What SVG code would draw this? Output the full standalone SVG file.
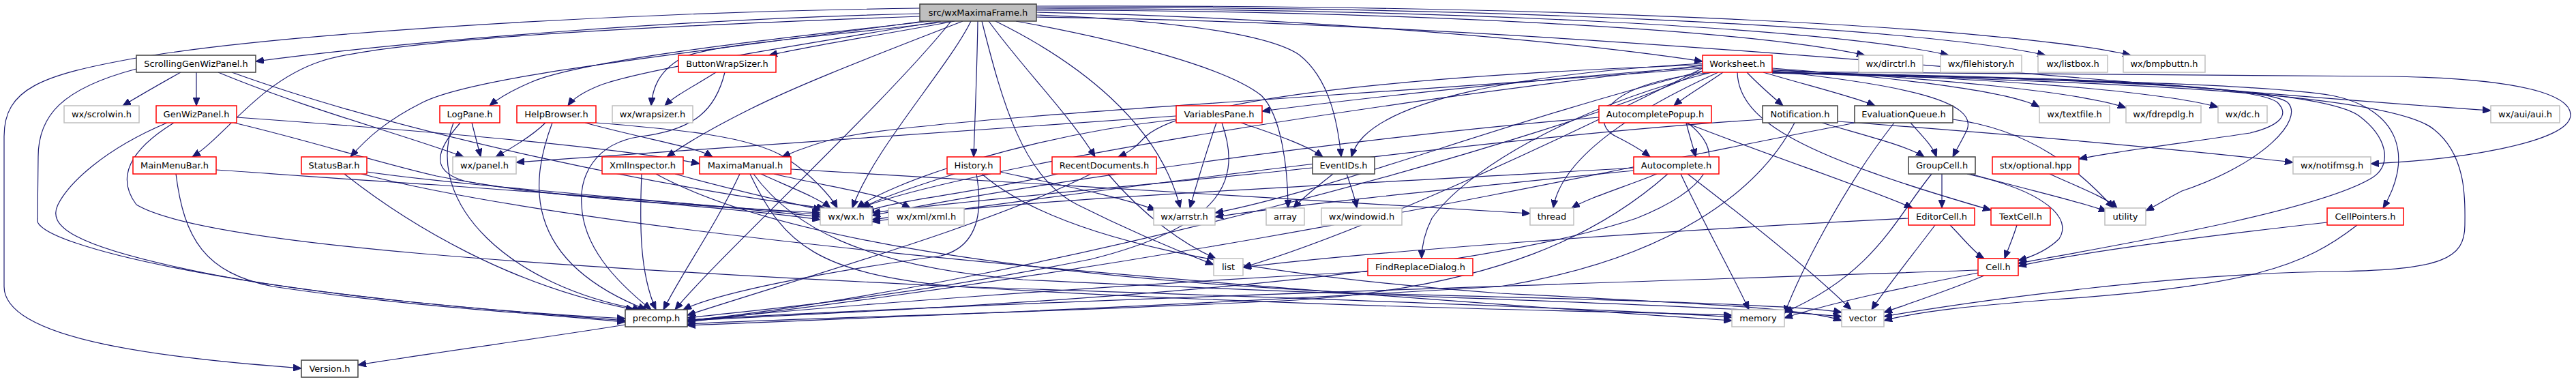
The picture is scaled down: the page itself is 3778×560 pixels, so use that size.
<svg xmlns="http://www.w3.org/2000/svg" width="3778" height="560" viewBox="0 0 3778 560">
<style>
.e path{fill:none;stroke:#191970;stroke-width:1.2;marker-end:url(#a)}
.n rect{fill:#fff;stroke-width:1.5}
.red rect{stroke:#ff0000}
.gray rect{stroke:#bfbfbf}
.blk rect{stroke:#404040}
.root rect{fill:#bfbfbf;stroke:#404040}
text{font-family:"DejaVu Sans","Liberation Sans",sans-serif;font-size:13px;text-anchor:middle;fill:#000}
</style>
<defs>
<marker id="a" markerUnits="userSpaceOnUse" markerWidth="13" markerHeight="10" refX="12" refY="5" orient="auto">
<path d="M0,0 L12,5 L0,10 z" fill="#191970" stroke="#191970" stroke-width="1"/>
</marker>
</defs>
<rect width="3778" height="560" fill="#fff"/>
<g id="edges" class="e">
<path d="M1349,20 C1000,28 600,60 375,90"/>
<path d="M1349,12 C900,18 400,50 200,85 C60,110 6,130 6,200 L6,420 C6,500 250,525 442,540"/>
<path d="M1349,24 C900,40 560,60 470,90 C380,120 330,200 282,230"/>
<path d="M1355,31 C1000,80 700,110 620,150 C570,175 540,200 514,230"/>
<path d="M1365,31 C1100,60 850,90 780,120 C745,135 730,145 718,155"/>
<path d="M1380,31 C1150,70 950,100 880,125 C855,135 840,145 833,155"/>
<path d="M1395,31 C1200,55 1040,65 1000,85 C965,105 957,130 955,155"/>
<path d="M1400,31 C1300,50 1200,65 1128,81"/>
<path d="M1412,31 C1300,75 1180,120 1100,160 C1030,195 1000,215 978,230"/>
<path d="M1424,31 C1390,100 1280,220 1250,305"/>
<path d="M1434,31 C1433,100 1430,170 1428,230"/>
<path d="M1440,31 C1470,150 1500,260 1580,300 C1660,340 1720,365 1780,388"/>
<path d="M1450,31 C1500,100 1570,170 1606,230"/>
<path d="M1460,31 C1580,90 1700,180 1731,305"/>
<path d="M1520,22 C1720,30 1860,50 1905,80 C1950,115 1962,180 1967,230"/>
<path d="M1490,31 C1650,60 1800,100 1850,140 C1880,170 1889,250 1889,305"/>
<path d="M1520,18 C1900,25 2300,60 2497,90"/>
<path d="M1520,15 C2000,15 2550,40 2735,81"/>
<path d="M1520,13 C2100,12 2680,40 2858,81"/>
<path d="M1520,11 C2200,9 2820,40 3000,81"/>
<path d="M1520,9 C2300,6 2950,40 3125,81"/>
<path d="M1520,25 C2300,35 3100,125 3653,162"/>
<path d="M1395,31 C1300,150 1050,380 990,454"/>
<path d="M265,106 C240,120 200,143 180,155"/>
<path d="M288,106 L288,155"/>
<path d="M200,101 C90,130 56,170 56,230 L55,320 C40,360 400,440 917,467"/>
<path d="M320,106 C450,160 600,200 680,230"/>
<path d="M340,106 C600,200 1000,280 1210,305"/>
<path d="M347,172 C600,190 900,215 1026,240"/>
<path d="M343,180 C450,205 560,240 640,258 C800,290 1000,300 1203,312"/>
<path d="M245,180 C150,220 100,270 85,300 C70,330 100,360 300,400 C500,440 800,460 917,470"/>
<path d="M255,180 C190,220 170,260 200,300 C300,360 800,390 1400,420 C2000,440 2400,455 2540,465"/>
<path d="M317,249 C450,258 550,266 640,271 C900,290 1100,305 1203,315"/>
<path d="M258,255 C270,350 300,400 400,420 C600,450 800,460 917,472"/>
<path d="M538,252 C700,275 1000,295 1203,318"/>
<path d="M505,255 C600,330 750,420 930,454"/>
<path d="M530,255 C900,350 1800,420 2540,470"/>
<path d="M692,180 L705,230"/>
<path d="M675,180 C640,220 630,250 680,265 C800,290 1050,300 1203,322"/>
<path d="M665,180 C620,300 750,420 940,454"/>
<path d="M800,180 C780,200 745,220 727,230"/>
<path d="M810,180 C780,260 760,380 948,454"/>
<path d="M858,180 C950,205 1020,215 1045,230"/>
<path d="M874,180 C1000,190 1100,200 1150,230 C1190,255 1220,290 1228,305"/>
<path d="M1050,106 C1020,125 990,140 975,155"/>
<path d="M1063,106 C1050,160 1020,190 940,200 C870,210 850,260 853,300 C855,360 900,410 955,454"/>
<path d="M941,255 C938,330 938,400 962,454"/>
<path d="M990,255 C1080,280 1150,295 1205,308"/>
<path d="M962,255 C1100,330 1400,400 2000,430 C2400,440 2650,448 2701,458"/>
<path d="M1085,255 C1050,330 1000,400 973,454"/>
<path d="M1116,255 C1160,275 1200,290 1218,305"/>
<path d="M1135,255 C1220,275 1300,285 1335,305"/>
<path d="M1160,248 C1500,270 2000,295 2244,313"/>
<path d="M1100,255 C1150,360 1200,400 1400,420 C1900,450 2300,455 2540,462"/>
<path d="M1105,255 C1160,330 1260,390 1500,410 C2000,435 2500,445 2701,464"/>
<path d="M1400,255 C1320,280 1280,295 1265,305"/>
<path d="M1432,255 C1440,300 1440,360 1380,375 C1200,400 1050,430 1002,454"/>
<path d="M1467,252 C1550,270 1650,290 1695,308"/>
<path d="M1440,255 C1550,350 1800,400 2200,430 C2500,445 2650,452 2701,470"/>
<path d="M1551,255 C1450,280 1330,290 1270,310"/>
<path d="M1600,255 C1450,330 1200,400 1008,462"/>
<path d="M1625,255 C1680,320 1740,360 1783,379"/>
<path d="M1725,170 C1300,200 900,225 757,238"/>
<path d="M1725,175 C1500,200 1300,270 1257,305"/>
<path d="M1784,180 C1770,220 1755,270 1745,305"/>
<path d="M1792,180 C1820,260 1800,330 1600,380 C1300,440 1100,455 1008,466"/>
<path d="M1820,180 C1880,200 1920,215 1940,230"/>
<path d="M1955,255 C1930,275 1910,290 1897,305"/>
<path d="M1975,255 C1982,275 1987,290 1990,305"/>
<path d="M1925,246 C1700,270 1400,295 1279,312"/>
<path d="M2497,98 C2200,120 1950,150 1851,163"/>
<path d="M2527,106 C2500,125 2470,142 2455,155"/>
<path d="M2562,106 C2580,125 2600,142 2615,155"/>
<path d="M2586,106 C2650,125 2720,142 2750,155"/>
<path d="M2599,104 C2800,125 2900,150 2885,190 C2878,205 2870,218 2864,230"/>
<path d="M2548,106 C2550,180 2650,230 2920,308"/>
<path d="M2599,100 C2800,115 2950,135 2991,157"/>
<path d="M2599,102 C2850,115 3050,135 3118,158"/>
<path d="M2599,103 C2900,115 3150,130 3253,157"/>
<path d="M2599,105 C2900,108 3300,110 3500,112 C3700,114 3772,140 3770,170 C3765,210 3600,235 3477,240"/>
<path d="M2599,106 C2900,115 3300,120 3420,140 C3520,160 3540,230 3495,305"/>
<path d="M2599,106 C2950,112 3300,120 3340,150 C3360,170 3340,185 3300,195 C3200,210 3100,222 3049,233"/>
<path d="M2599,107 C2950,114 3320,122 3355,150 C3380,175 3320,240 3200,280 C3180,290 3165,300 3147,309"/>
<path d="M2599,107 C3000,118 3500,130 3570,190 C3620,230 3615,300 3615,330 C3615,380 3580,395 3430,398 C3200,400 2900,440 2763,464"/>
<path d="M2599,106 C3000,115 3400,125 3460,170 C3500,200 3510,240 3480,260 C3400,310 3100,360 2960,386"/>
<path d="M2497,104 C2300,200 1500,420 1008,470"/>
<path d="M2497,96 C2000,150 1400,250 1262,305"/>
<path d="M2497,100 C2300,200 2000,340 1823,392"/>
<path d="M2520,106 C2400,160 2290,230 2278,305"/>
<path d="M2510,106 C2300,160 2150,250 2100,320 C2090,340 2085,360 2085,379"/>
<path d="M2515,106 C2350,120 2330,180 2370,200 C2400,215 2410,222 2420,230"/>
<path d="M2497,93 C2200,110 2050,150 2000,200 C1990,210 1985,220 1982,230"/>
<path d="M2497,95 C2100,110 1750,140 1680,200 C1670,210 1663,220 1640,230"/>
<path d="M2497,100 C2000,140 1400,170 1240,200 C1200,208 1170,220 1147,230"/>
<path d="M2497,104 C2200,180 1950,280 1782,312"/>
<path d="M2473,180 C2478,200 2483,215 2487,230"/>
<path d="M2472,180 C2600,230 2750,280 2805,305"/>
<path d="M2475,180 C2540,230 2500,280 2400,320 C2100,420 1400,450 1008,470"/>
<path d="M2345,172 C2000,200 1500,270 1279,316"/>
<path d="M2430,255 C2380,275 2330,290 2305,305"/>
<path d="M2465,255 C2500,330 2540,400 2565,454"/>
<path d="M2475,255 C2560,320 2660,400 2715,454"/>
<path d="M2446,255 C2350,340 2200,420 1900,440 C1500,460 1200,465 1008,475"/>
<path d="M2396,246 C2000,270 1500,290 1279,322"/>
<path d="M2396,250 C2100,280 1900,300 1782,318"/>
<path d="M2672,180 C2740,200 2800,215 2822,230"/>
<path d="M2695,178 C3000,200 3250,225 3363,238"/>
<path d="M2632,180 C2580,280 2450,380 2200,420 C1700,450 1300,465 1008,477"/>
<path d="M2585,175 C2200,200 1600,280 1279,325"/>
<path d="M2802,180 C2820,200 2835,215 2840,230"/>
<path d="M2778,180 C2700,280 2640,400 2617,460"/>
<path d="M2864,175 C2980,190 3050,250 3100,305"/>
<path d="M2722,180 C2400,240 1800,380 1008,472"/>
<path d="M2848,255 L2848,305"/>
<path d="M2885,255 C3000,280 3040,320 3020,350 C3005,365 2985,375 2960,382"/>
<path d="M2833,255 C2780,320 2750,400 2617,458"/>
<path d="M2890,255 C2980,280 3050,295 3090,310"/>
<path d="M2860,330 C2880,350 2895,370 2910,379"/>
<path d="M2838,330 C2800,380 2760,430 2745,454"/>
<path d="M2799,320 C2400,340 2000,370 1823,392"/>
<path d="M2958,330 C2952,350 2945,365 2940,379"/>
<path d="M2901,400 C2800,420 2700,440 2617,466"/>
<path d="M2910,404 C2860,425 2800,445 2763,458"/>
<path d="M2901,396 C2500,410 1500,440 1008,469"/>
<path d="M3413,326 C3200,350 3050,370 2960,390"/>
<path d="M3457,330 C3380,390 3300,420 3000,440 C2900,448 2820,455 2763,470"/>
<path d="M3006,255 C3050,275 3090,290 3105,305"/>
<path d="M2006,398 C1600,420 1200,450 1008,470"/>
<path d="M917,476 C800,495 650,515 525,535"/>
</g>
<g id="n0" class="n root"><rect x="1349" y="6" width="171" height="25"/><text x="1434.5" y="23">src/wxMaximaFrame.h</text></g>
<g id="n1" class="n blk"><rect x="200" y="81" width="175" height="25"/><text x="287.5" y="98">ScrollingGenWizPanel.h</text></g>
<g id="n2" class="n red"><rect x="995" y="81" width="143" height="25"/><text x="1066.5" y="98">ButtonWrapSizer.h</text></g>
<g id="n3" class="n red"><rect x="2497" y="81" width="102" height="25"/><text x="2548" y="98">Worksheet.h</text></g>
<g id="n4" class="n gray"><rect x="2726" y="81" width="94" height="25"/><text x="2773" y="98">wx/dirctrl.h</text></g>
<g id="n5" class="n gray"><rect x="2846" y="81" width="119" height="25"/><text x="2905.5" y="98">wx/filehistory.h</text></g>
<g id="n6" class="n gray"><rect x="2989" y="81" width="102" height="25"/><text x="3040" y="98">wx/listbox.h</text></g>
<g id="n7" class="n gray"><rect x="3114" y="81" width="120" height="25"/><text x="3174" y="98">wx/bmpbuttn.h</text></g>
<g id="n8" class="n gray"><rect x="94" y="155" width="110" height="25"/><text x="149" y="172">wx/scrolwin.h</text></g>
<g id="n9" class="n red"><rect x="229" y="155" width="118" height="25"/><text x="288" y="172">GenWizPanel.h</text></g>
<g id="n10" class="n red"><rect x="645" y="155" width="88" height="25"/><text x="689" y="172">LogPane.h</text></g>
<g id="n11" class="n red"><rect x="758" y="155" width="116" height="25"/><text x="816" y="172">HelpBrowser.h</text></g>
<g id="n12" class="n gray"><rect x="898" y="155" width="118" height="25"/><text x="957" y="172">wx/wrapsizer.h</text></g>
<g id="n13" class="n red"><rect x="1725" y="155" width="126" height="25"/><text x="1788" y="172">VariablesPane.h</text></g>
<g id="n14" class="n red"><rect x="2345" y="155" width="165" height="25"/><text x="2427.5" y="172">AutocompletePopup.h</text></g>
<g id="n15" class="n blk"><rect x="2585" y="155" width="110" height="25"/><text x="2640" y="172">Notification.h</text></g>
<g id="n16" class="n blk"><rect x="2720" y="155" width="144" height="25"/><text x="2792" y="172">EvaluationQueue.h</text></g>
<g id="n17" class="n gray"><rect x="2991" y="155" width="103" height="25"/><text x="3042.5" y="172">wx/textfile.h</text></g>
<g id="n18" class="n gray"><rect x="3118" y="155" width="110" height="25"/><text x="3173" y="172">wx/fdrepdlg.h</text></g>
<g id="n19" class="n gray"><rect x="3253" y="155" width="72" height="25"/><text x="3289" y="172">wx/dc.h</text></g>
<g id="n20" class="n gray"><rect x="3653" y="155" width="101" height="25"/><text x="3703.5" y="172">wx/aui/aui.h</text></g>
<g id="n21" class="n red"><rect x="195" y="230" width="122" height="25"/><text x="256" y="247">MainMenuBar.h</text></g>
<g id="n22" class="n red"><rect x="442" y="230" width="96" height="25"/><text x="490" y="247">StatusBar.h</text></g>
<g id="n23" class="n gray"><rect x="664" y="230" width="93" height="25"/><text x="710.5" y="247">wx/panel.h</text></g>
<g id="n24" class="n red"><rect x="883" y="230" width="119" height="25"/><text x="942.5" y="247">XmlInspector.h</text></g>
<g id="n25" class="n red"><rect x="1026" y="230" width="134" height="25"/><text x="1093" y="247">MaximaManual.h</text></g>
<g id="n26" class="n red"><rect x="1389" y="230" width="78" height="25"/><text x="1428" y="247">History.h</text></g>
<g id="n27" class="n red"><rect x="1543" y="230" width="153" height="25"/><text x="1619.5" y="247">RecentDocuments.h</text></g>
<g id="n28" class="n blk"><rect x="1925" y="230" width="91" height="25"/><text x="1970.5" y="247">EventIDs.h</text></g>
<g id="n29" class="n red"><rect x="2396" y="230" width="125" height="25"/><text x="2458.5" y="247">Autocomplete.h</text></g>
<g id="n30" class="n blk"><rect x="2799" y="230" width="98" height="25"/><text x="2848" y="247">GroupCell.h</text></g>
<g id="n31" class="n red"><rect x="2922" y="230" width="127" height="25"/><text x="2985.5" y="247">stx/optional.hpp</text></g>
<g id="n32" class="n gray"><rect x="3363" y="230" width="114" height="25"/><text x="3420" y="247">wx/notifmsg.h</text></g>
<g id="n33" class="n gray"><rect x="1203" y="305" width="76" height="25"/><text x="1241" y="322">wx/wx.h</text></g>
<g id="n34" class="n gray"><rect x="1303" y="305" width="111" height="25"/><text x="1358.5" y="322">wx/xml/xml.h</text></g>
<g id="n35" class="n gray"><rect x="1692" y="305" width="90" height="25"/><text x="1737" y="322">wx/arrstr.h</text></g>
<g id="n36" class="n gray"><rect x="1857" y="305" width="56" height="25"/><text x="1885" y="322">array</text></g>
<g id="n37" class="n gray"><rect x="1938" y="305" width="118" height="25"/><text x="1997" y="322">wx/windowid.h</text></g>
<g id="n38" class="n gray"><rect x="2244" y="305" width="64" height="25"/><text x="2276" y="322">thread</text></g>
<g id="n39" class="n red"><rect x="2799" y="305" width="97" height="25"/><text x="2847.5" y="322">EditorCell.h</text></g>
<g id="n40" class="n red"><rect x="2920" y="305" width="87" height="25"/><text x="2963.5" y="322">TextCell.h</text></g>
<g id="n41" class="n gray"><rect x="3087" y="305" width="60" height="25"/><text x="3117" y="322">utility</text></g>
<g id="n42" class="n red"><rect x="3413" y="305" width="112" height="25"/><text x="3469" y="322">CellPointers.h</text></g>
<g id="n43" class="n gray"><rect x="1780" y="379" width="43" height="25"/><text x="1801.5" y="396">list</text></g>
<g id="n44" class="n red"><rect x="2006" y="379" width="154" height="25"/><text x="2083" y="396">FindReplaceDialog.h</text></g>
<g id="n45" class="n red"><rect x="2901" y="379" width="59" height="25"/><text x="2930.5" y="396">Cell.h</text></g>
<g id="n46" class="n blk"><rect x="917" y="454" width="91" height="25"/><text x="962.5" y="471">precomp.h</text></g>
<g id="n47" class="n gray"><rect x="2540" y="454" width="77" height="25"/><text x="2578.5" y="471">memory</text></g>
<g id="n48" class="n gray"><rect x="2701" y="454" width="62" height="25"/><text x="2732" y="471">vector</text></g>
<g id="n49" class="n blk"><rect x="442" y="528" width="83" height="25"/><text x="483.5" y="545">Version.h</text></g>
</svg>
